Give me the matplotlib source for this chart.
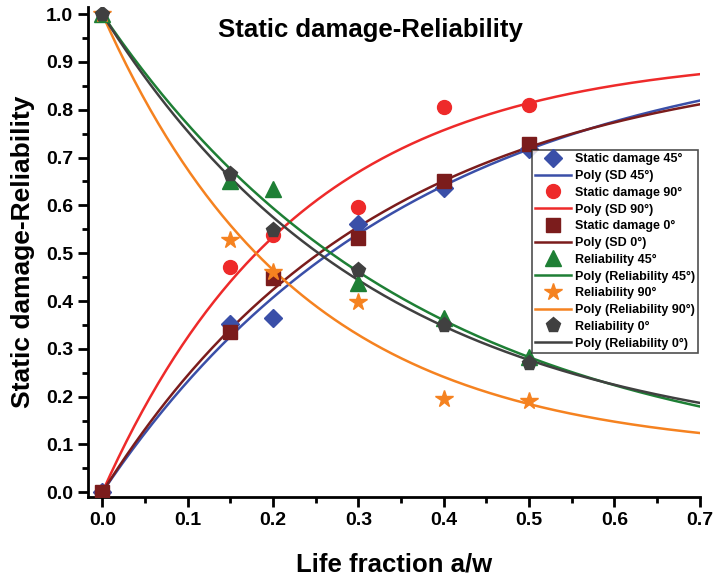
import numpy as np
import matplotlib.pyplot as plt
from matplotlib.ticker import MultipleLocator

plt.rcParams['font.family'] = ['Liberation Sans', 'DejaVu Sans']
plt.rcParams['font.weight'] = 'bold'

# measured points
life_fraction = [0.0, 0.15, 0.2, 0.3, 0.4, 0.5]
sd_45 = [0.0, 0.352, 0.365, 0.562, 0.637, 0.717]
sd_90 = [0.0, 0.472, 0.539, 0.597, 0.805, 0.809]
sd_0 = [0.0, 0.335, 0.449, 0.532, 0.650, 0.729]
rel_45 = [1.0, 0.652, 0.635, 0.438, 0.365, 0.283]
rel_90 = [1.0, 0.528, 0.461, 0.398, 0.195, 0.190]
rel_0 = [1.0, 0.665, 0.549, 0.465, 0.350, 0.270]


def fit_curve(x, y, xs):
    """Fit y = y0 + A*(1 - exp(-(x/t)**p)) through the first point (grid search on t, p>=1)."""
    x = np.asarray(x)
    y = np.asarray(y)
    y0 = y[0]
    best = None
    for p in np.linspace(1.0, 2.0, 51):
        for t in np.linspace(0.05, 1.5, 300):
            g = 1 - np.exp(-(x / t) ** p)
            amp = np.sum(g * (y - y0)) / np.sum(g * g)
            err = np.sum((y0 + amp * g - y) ** 2)
            if best is None or err < best[0]:
                best = (err, amp, t, p)
    _, amp, t, p = best
    return y0 + amp * (1 - np.exp(-(xs / t) ** p))


series = [
    ('Static damage 45°', 'Poly (SD 45°)', sd_45, '#3a4fa8', 'D', 9),
    ('Static damage 90°', 'Poly (SD 90°)', sd_90, '#ee2a2a', 'o', 10),
    ('Static damage 0°', 'Poly (SD 0°)', sd_0, '#7b1c1c', 's', 10),
    ('Reliability 45°', 'Poly (Reliability 45°)', rel_45, '#1e7f35', '^', 11),
    ('Reliability 90°', 'Poly (Reliability 90°)', rel_90, '#f58220', '*', 13),
    ('Reliability 0°', 'Poly (Reliability 0°)', rel_0, '#404040', 'p', 11),
]

fig = plt.figure(figsize=(7.14, 5.82), dpi=100)
ax = fig.add_axes([0.123, 0.146, 0.857, 0.842])

xs = np.linspace(0, 0.7, 300)
for name, fit_name, ys, col, mk, ms in series:
    ax.plot(life_fraction, ys, linestyle='none', marker=mk, color=col,
            markersize=ms, label=name, zorder=3)
    ax.plot(xs, fit_curve(life_fraction, ys, xs), color=col, lw=1.8,
            label=fit_name, zorder=2)

ax.set_xlim(-0.017, 0.7)
ax.set_ylim(-0.01, 1.015)
ax.xaxis.set_major_locator(MultipleLocator(0.1))
ax.xaxis.set_minor_locator(MultipleLocator(0.05))
ax.yaxis.set_major_locator(MultipleLocator(0.1))
ax.yaxis.set_minor_locator(MultipleLocator(0.05))
ax.spines['top'].set_visible(False)
ax.spines['right'].set_visible(False)
for s in ('left', 'bottom'):
    ax.spines[s].set_linewidth(2)
ax.tick_params(which='major', direction='out', length=7, width=2, labelsize=14)
ax.tick_params(which='minor', direction='out', length=4, width=2)
for lab in ax.get_xticklabels() + ax.get_yticklabels():
    lab.set_fontweight('bold')

ax.set_xlabel('Life fraction a/w', fontsize=18.5, fontweight='bold', labelpad=17)
ax.set_ylabel('Static damage-Reliability', fontsize=19, fontweight='bold', labelpad=8)
ax.text(0.462, 0.953, 'Static damage-Reliability', transform=ax.transAxes,
        ha='center', va='center', fontsize=18.5, fontweight='bold')

leg = ax.legend(loc='upper right', bbox_to_anchor=(0.997, 0.708), fontsize=9,
                frameon=True, fancybox=False, edgecolor='#222222',
                handlelength=2.9, handletextpad=0.3, borderpad=0.25,
                labelspacing=0.38, borderaxespad=0)
leg.get_frame().set_linewidth(1.2)
for t in leg.get_texts():
    t.set_fontweight('bold')

fig.savefig('out.png', dpi=100)
